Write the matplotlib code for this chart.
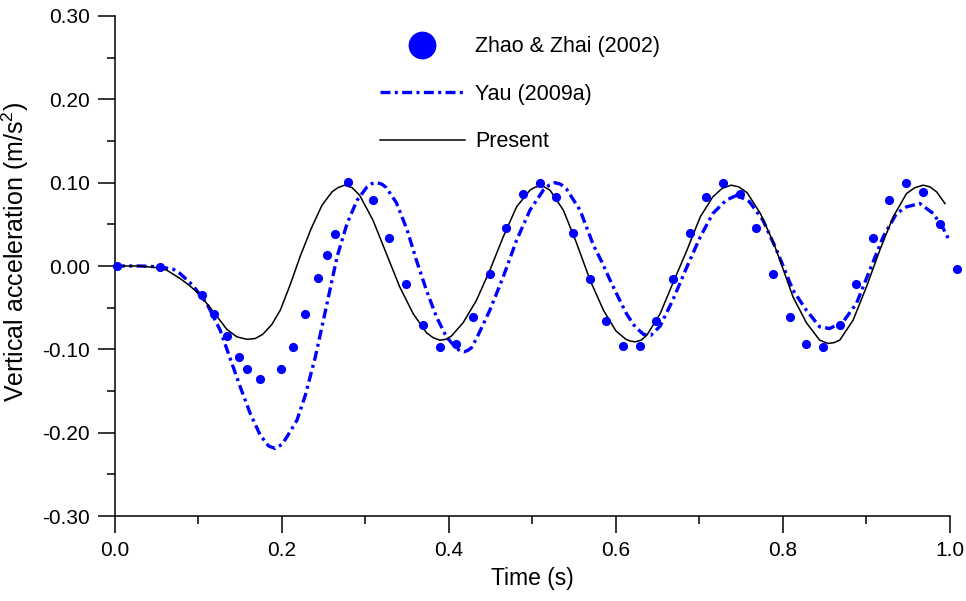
import matplotlib
matplotlib.use('Agg')
import matplotlib.pyplot as plt
from matplotlib.lines import Line2D
from matplotlib.ticker import MultipleLocator, FormatStrFormatter

plt.rcParams['font.family'] = ['Liberation Sans', 'DejaVu Sans']
plt.rcParams['mathtext.default'] = 'regular'

# Zhao & Zhai (2002) - measured points
zz_t = [0.002, 0.054, 0.104, 0.119, 0.134, 0.149, 0.158, 0.174, 0.199, 0.213,
        0.228, 0.243, 0.254, 0.263, 0.279, 0.309, 0.328, 0.348, 0.369, 0.389,
        0.408, 0.429, 0.449, 0.468, 0.489, 0.509, 0.528, 0.548, 0.569, 0.588,
        0.608, 0.629, 0.648, 0.668, 0.689, 0.708, 0.728, 0.749, 0.768, 0.788,
        0.808, 0.828, 0.848, 0.868, 0.887, 0.908, 0.927, 0.947, 0.968, 0.988,
        1.008]
zz_a = [0.000, -0.001, -0.035, -0.058, -0.084, -0.109, -0.124, -0.136, -0.124, -0.097,
        -0.058, -0.014, 0.013, 0.038, 0.101, 0.079, 0.034, -0.022, -0.071, -0.097,
        -0.094, -0.061, -0.009, 0.046, 0.086, 0.100, 0.083, 0.040, -0.016, -0.066,
        -0.096, -0.096, -0.066, -0.016, 0.040, 0.083, 0.100, 0.086, 0.046, -0.010,
        -0.061, -0.094, -0.097, -0.071, -0.022, 0.034, 0.079, 0.100, 0.089, 0.050,
        -0.003]

# Yau (2009a)
yau_t = [0.000, 0.030, 0.054, 0.070, 0.078, 0.093, 0.110, 0.126, 0.138, 0.150,
         0.162, 0.174, 0.184, 0.192, 0.200, 0.206, 0.218, 0.228, 0.240, 0.254,
         0.266, 0.278, 0.290, 0.302, 0.308, 0.314, 0.320, 0.325, 0.337, 0.350,
         0.361, 0.373, 0.385, 0.397, 0.409, 0.414, 0.418, 0.423, 0.427, 0.433,
         0.449, 0.465, 0.481, 0.497, 0.513, 0.520, 0.527, 0.534, 0.541, 0.557,
         0.573, 0.583, 0.593, 0.603, 0.613, 0.623, 0.633, 0.642, 0.653, 0.668,
         0.685, 0.701, 0.716, 0.732, 0.745, 0.760, 0.776, 0.792, 0.812, 0.828,
         0.844, 0.856, 0.872, 0.888, 0.904, 0.920, 0.936, 0.948, 0.964, 0.980,
         0.992, 1.000]
yau_a = [0.000, 0.000, -0.001, -0.004, -0.009, -0.023, -0.045, -0.077, -0.111, -0.145,
         -0.177, -0.203, -0.216, -0.219, -0.214, -0.205, -0.185, -0.155, -0.109, -0.045,
         0.011, 0.051, 0.079, 0.095, 0.099, 0.100, 0.098, 0.094, 0.076, 0.043,
         0.007, -0.029, -0.061, -0.085, -0.099, -0.102, -0.103, -0.101, -0.098, -0.087,
         -0.053, -0.013, 0.031, 0.067, 0.091, 0.097, 0.100, 0.098, 0.092, 0.067,
         0.025, 0.005, -0.017, -0.038, -0.058, -0.073, -0.082, -0.083, -0.072, -0.041,
         -0.001, 0.035, 0.063, 0.079, 0.085, 0.077, 0.055, 0.020, -0.029, -0.053,
         -0.073, -0.075, -0.067, -0.045, -0.005, 0.035, 0.063, 0.071, 0.075, 0.063,
         0.045, 0.029]

# Present
pr_t = [0.000, 0.030, 0.050, 0.062, 0.078, 0.090, 0.102, 0.118, 0.134, 0.146,
        0.158, 0.168, 0.177, 0.188, 0.198, 0.210, 0.222, 0.235, 0.248, 0.260,
        0.267, 0.275, 0.284, 0.293, 0.309, 0.325, 0.341, 0.357, 0.373, 0.381,
        0.389, 0.396, 0.403, 0.417, 0.433, 0.449, 0.465, 0.481, 0.497, 0.502,
        0.508, 0.514, 0.521, 0.537, 0.553, 0.569, 0.585, 0.600, 0.612, 0.617,
        0.623, 0.630, 0.637, 0.653, 0.668, 0.685, 0.701, 0.716, 0.727, 0.738,
        0.747, 0.757, 0.773, 0.789, 0.796, 0.812, 0.828, 0.844, 0.854, 0.861,
        0.868, 0.884, 0.900, 0.916, 0.932, 0.948, 0.958, 0.968, 0.976, 0.984,
        0.994]
pr_a = [0.000, 0.000, -0.002, -0.005, -0.015, -0.024, -0.035, -0.055, -0.076, -0.085,
        -0.088, -0.087, -0.082, -0.070, -0.053, -0.022, 0.012, 0.045, 0.073, 0.089,
        0.094, 0.097, 0.094, 0.085, 0.055, 0.015, -0.025, -0.057, -0.080, -0.086,
        -0.089, -0.088, -0.084, -0.068, -0.041, -0.005, 0.035, 0.071, 0.091, 0.094,
        0.096, 0.095, 0.091, 0.067, 0.027, -0.017, -0.053, -0.078, -0.088, -0.090,
        -0.091, -0.089, -0.083, -0.057, -0.021, 0.019, 0.059, 0.083, 0.093, 0.097,
        0.095, 0.088, 0.063, 0.027, 0.008, -0.037, -0.068, -0.089, -0.093, -0.092,
        -0.089, -0.065, -0.025, 0.019, 0.059, 0.087, 0.094, 0.097, 0.095, 0.089,
        0.075]

fig = plt.figure(figsize=(9.66, 6.01), dpi=100)
ax = fig.add_axes([0.119, 0.1414, 0.8644, 0.832])

dashdot = (0, (3.0, 1.3, 0.9, 1.3))
ax.plot(yau_t, yau_a, color='#0000FF', lw=2.4, linestyle=dashdot)
ax.plot(pr_t, pr_a, color='black', lw=1.1)
ax.plot(zz_t, zz_a, 'o', color='#0000FF', ms=6.6, mec='none', clip_on=False, zorder=5)

ax.set_xlim(0, 1.0)
ax.set_ylim(-0.3, 0.3)
ax.xaxis.set_major_locator(MultipleLocator(0.2))
ax.xaxis.set_minor_locator(MultipleLocator(0.1))
ax.yaxis.set_major_locator(MultipleLocator(0.1))
ax.yaxis.set_minor_locator(MultipleLocator(0.05))
ax.xaxis.set_major_formatter(FormatStrFormatter('%.1f'))
ax.yaxis.set_major_formatter(FormatStrFormatter('%.2f'))
ax.tick_params(which='major', direction='out', length=12, width=1.1, labelsize=15, pad=6)
ax.tick_params(which='minor', direction='out', length=6, width=1.1)
for s in ['top', 'right']:
    ax.spines[s].set_visible(False)
for s in ['left', 'bottom']:
    ax.spines[s].set_linewidth(1.1)

ax.set_xlabel('Time (s)', fontsize=16.5, labelpad=5)
ax.set_ylabel('Vertical acceleration (m/s$^2$)', fontsize=18)
ax.yaxis.set_label_coords(-0.101, 0.528)

handles = [
    Line2D([], [], marker='o', color='#0000FF', ls='none', ms=20, mec='none'),
    Line2D([], [], color='#0000FF', lw=2.4, ls=dashdot),
    Line2D([], [], color='black', lw=1.1),
]
labels = ['Zhao & Zhai (2002)', 'Yau (2009a)', 'Present']
ax.legend(handles, labels, loc='upper left', bbox_to_anchor=(0.294, 0.998),
          frameon=False, fontsize=15.5, handlelength=3.95, handletextpad=0.47,
          labelspacing=1.23)

fig.savefig('out.png', dpi=100)
